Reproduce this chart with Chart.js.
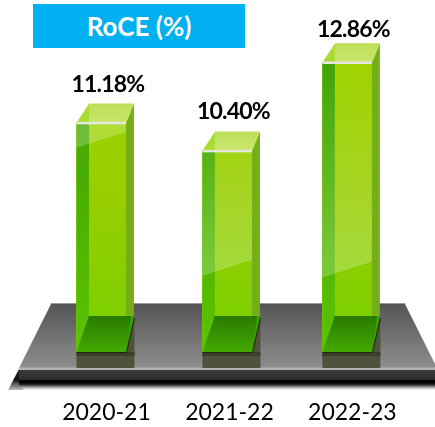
<!DOCTYPE html>
<html>
<head>
<meta charset="utf-8">
<style>
    html, body { margin: 0; padding: 0; background: #fff; }
    #wrap { position: relative; width: 435px; height: 427px; overflow: hidden; }
    #title {
        position: absolute; left: 33px; top: 4px; width: 212px; height: 44px;
        background: #00B0F0; color: #fff; text-align: center;
        font: bold 26px/44px Lato, sans-serif;
    }
    canvas { position: absolute; left: 0; top: 0; }
</style>
</head>
<body>
<div id="wrap">
    <canvas id="roceChart" width="435" height="427"></canvas>
    <div id="title">RoCE (%)</div>
</div>
<script src="https://cdn.jsdelivr.net/npm/chart.js@4"></script>
<script>
const categories = ['2020-21', '2021-22', '2022-23'];
const roceValues = [11.18, 10.40, 12.86];
const valueLabels = ['11.18%', '10.40%', '12.86%'];

// the axis does not start at zero in the source art
const axisMin = 4.8;
const axisMax = 14.6;

// per bar tweaks, the source art is not evenly spaced
const barShift = [0, 3, 0];
const labelShift = [6.5, 6, 6];
const labelLift = [38, 39, 33];
const sheenDrop = [25, 125, 215];
const sheenTopAlpha = [0.2, 0.08, 0];

const poly = (c, pts, fill) => {
    c.fillStyle = fill;
    c.beginPath();
    pts.forEach((p, i) => i ? c.lineTo(p[0], p[1]) : c.moveTo(p[0], p[1]));
    c.closePath();
    c.fill();
};

const vGrad = (c, y0, y1, stops) => {
    const g = c.createLinearGradient(0, y0, 0, y1);
    stops.forEach((s, i) => g.addColorStop(i / (stops.length - 1), s));
    return g;
};

const drawPlatform = (c, bars) => {
    // soft shadow under the slab
    c.fillStyle = vGrad(c, 380, 390, ['#000', '#000', '#333', '#aaa', '#fff']);
    c.fillRect(15, 380, 420, 10);
    poly(c, [[19, 369], [19, 385], [24, 390], [8, 390]], vGrad(c, 369, 390, ['#333', '#111', '#bbb']));

    // top face
    poly(c, [[51, 304], [405, 304], [437, 368], [19, 368]], vGrad(c, 304, 368, ['#555', '#8e8e8e']));
    c.fillStyle = '#9a9a9a';
    c.fillRect(51, 303, 354, 1);

    // front edge
    c.fillStyle = '#b4b4b4';
    c.fillRect(19, 367.5, 416, 2.5);
    c.fillStyle = vGrad(c, 370, 380, ['#3a3a3a', '#2c2c2c']);
    c.fillRect(19, 370, 416, 10);

    // reflections of the bars on the slab
    bars.forEach(bar => {
        const l = bar.x - 25;
        c.fillStyle = '#50533c';
        c.fillRect(l, bar.base, 58, 16);
        c.fillStyle = '#3b3e2d';
        c.fillRect(l, bar.base, 58, 4);
        poly(c, [[l + 49, bar.base], [l + 58, 317], [l + 58, bar.base]], '#50533c');
    });
};

const drawBarParts = (c, bar, i) => {
    const l = bar.x - 25;
    const r = l + 49.5;
    const strip = l + 12.5;
    const back = r + 8;
    const top = bar.y;
    const base = bar.base;
    const backTop = top - 19;
    const floorTop = base - 36;

    // darker inner left wall
    c.fillStyle = vGrad(c, 60, 352, ['#3FA408', '#4CB000', '#5CC400']);
    c.fillRect(l, top, strip - l, base - top);

    // right wall
    poly(c, [[r, top], [back, backTop], [back, floorTop], [r, base]], '#74AE18');

    // glossy reflection, gets stronger towards its lower edge
    const sy = top + sheenDrop[i];
    const sheen = vGrad(c, top, sy, [`rgba(255,255,255,${sheenTopAlpha[i]})`, 'rgba(255,255,255,0.24)']);
    poly(c, [[l, top], [r, top], [r, sy - 16], [l, sy]], sheen);

    // cap
    poly(c, [[l, top], [strip, backTop], [back, backTop], [r, top]], '#ABDB33');
    poly(c, [[strip, backTop], [back, backTop], [r, top], [strip, top]], vGrad(c, backTop, top, ['#BDE05A', '#C9E56E']));
    c.fillStyle = '#E6E8E0';
    c.fillRect(l, top - 1, r - l, 2.5);

    // floor of the box
    poly(c, [[l, base], [strip, floorTop], [back, floorTop], [r, base]], vGrad(c, floorTop, base, ['#287A00', '#44AA00']));
    poly(c, [[r, base], [r + 5, floorTop], [back, floorTop]], '#38A000');
    c.strokeStyle = '#1c2a10';
    c.lineWidth = 1;
    c.beginPath();
    c.moveTo(back + 0.5, floorTop + 2);
    c.lineTo(r + 0.5, base + 0.5);
    c.lineTo(l, base + 0.5);
    c.stroke();

    // value label
    c.fillStyle = '#000';
    c.font = 'bold 23px Lato, sans-serif';
    c.letterSpacing = '-0.8px';
    c.textAlign = 'center';
    c.textBaseline = 'middle';
    c.fillText(valueLabels[i], bar.x + labelShift[i], top - labelLift[i]);
    c.letterSpacing = '0px';
};

const glassBars = {
    id: 'glassBars',
    afterDatasetsUpdate(chart) {
        chart.getDatasetMeta(0).data.forEach((bar, i) => { bar.x += barShift[i]; });
    },
    beforeDatasetsDraw(chart) {
        drawPlatform(chart.ctx, chart.getDatasetMeta(0).data);
    },
    afterDatasetsDraw(chart) {
        chart.getDatasetMeta(0).data.forEach((bar, i) => drawBarParts(chart.ctx, bar, i));
    }
};

new Chart(document.getElementById('roceChart'), {
    type: 'bar',
    data: {
        labels: categories,
        datasets: [{
            data: roceValues,
            base: axisMin,
            barThickness: 50,
            borderWidth: 0,
            backgroundColor: ctx => vGrad(ctx.chart.ctx, 60, 352, ['#9FD400', '#96CE00', '#78D000'])
        }]
    },
    plugins: [glassBars],
    options: {
        responsive: false,
        animation: false,
        layout: { padding: { left: 40, right: 26, top: 0, bottom: 0 } },
        plugins: {
            legend: { display: false },
            tooltip: { enabled: false }
        },
        scales: {
            y: { display: false, min: axisMin, max: axisMax },
            x: {
                grid: { display: false },
                border: { display: false },
                afterFit: scale => { scale.height = 75; },
                ticks: {
                    color: '#000',
                    font: { family: 'Lato, sans-serif', size: 23 },
                    padding: 39,
                    labelOffset: 5,
                    maxRotation: 0,
                    autoSkip: false
                }
            }
        }
    }
});
</script>
</body>
</html>
